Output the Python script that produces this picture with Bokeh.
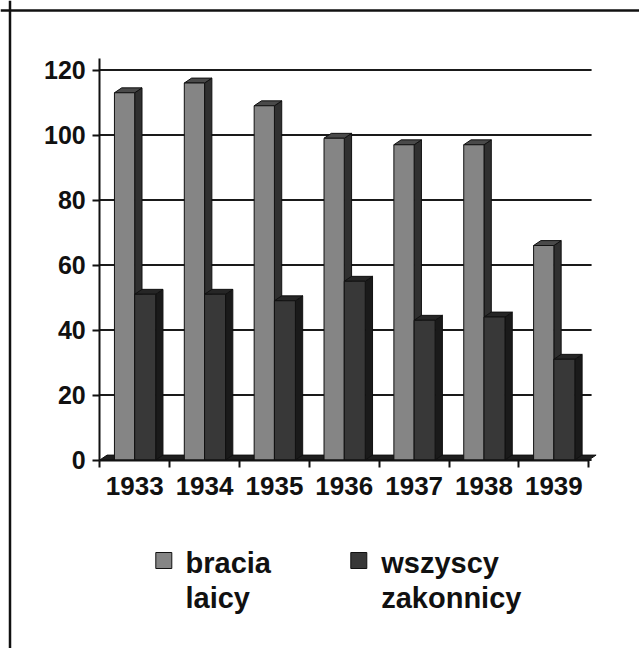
from bokeh.plotting import figure
from bokeh.models import Range1d, LinearAxis, FixedTicker, Span
from bokeh.core.properties import value
from bokeh.embed import file_html
from bokeh.resources import INLINE

# ---- data ----
years = ["1933", "1934", "1935", "1936", "1937", "1938", "1939"]
bracia_laicy = [113, 116, 109, 99, 97, 97, 66]
wszyscy_zakonnicy = [51, 51, 49, 55, 43, 44, 31]
y_ticks = [0, 20, 40, 60, 80, 100, 120]
series_labels = ["bracia\nlaicy", "wszyscy\nzakonnicy"]

# ---- layout constants ----
W, H = 639, 648
PX_X = 69.86          # px per category
PX_Y = 3.25           # px per value unit
ORIGIN_X = 134.2      # canvas px of category 0 centre
ORIGIN_Y = 459.5      # canvas px (from top) of value 0

def cx(px):
    return (px - ORIGIN_X) / PX_X

def cy(py):
    return (ORIGIN_Y - py) / PX_Y

DX = 7.3 / PX_X
DY = 4.9 / PX_Y
FONT = "Liberation Sans"
INK = "#111111"

p = figure(width=W, height=H, output_backend="svg", toolbar_location=None,
           x_range=Range1d(cx(0), cx(W)), y_range=Range1d(cy(H), cy(0)),
           x_axis_type=None, y_axis_type=None, min_border=0)
p.outline_line_color = None
p.background_fill_color = "white"
p.border_fill_color = "white"

n = len(years)
xs = list(range(n))

# gridlines
p.segment(x0=[-0.5] * len(y_ticks), y0=y_ticks, x1=[n - 0.5 + 0.04] * len(y_ticks), y1=y_ticks,
          line_color="#1a1a1a", line_width=2)

# floor
p.patch([-0.5, n - 0.5, n - 0.5 + DX, -0.5 + DX], [0, 0, DY, DY],
        fill_color="#1e1e1e", line_color=INK, line_width=1)

def draw_series(vals, off0, off1, front, top, side):
    tx, ty, sx, sy = [], [], [], []
    for i, h in zip(xs, vals):
        x0, x1 = i + off0, i + off1
        tx.append([x0, x1, x1 + DX, x0 + DX])
        ty.append([h, h, h + DY, h + DY])
        sx.append([x1, x1 + DX, x1 + DX, x1])
        sy.append([0, DY, h + DY, h])
    p.patches(sx, sy, fill_color=side, line_color=INK, line_width=1)
    p.patches(tx, ty, fill_color=top, line_color=INK, line_width=1)
    p.quad(left=[i + off0 for i in xs], right=[i + off1 for i in xs],
           bottom=[0] * n, top=vals, fill_color=front, line_color=INK, line_width=1)

draw_series(bracia_laicy, -0.29, 0.0, "#858585", "#4a4a4a", "#303030")
draw_series(wszyscy_zakonnicy, 0.0, 0.30, "#383838", "#262626", "#1a1a1a")

# y axis
yax = LinearAxis(fixed_location=-0.5, ticker=FixedTicker(ticks=y_ticks), bounds=(0, 123.5))
yax.axis_line_color = INK
yax.axis_line_width = 2
yax.major_tick_out = 7
yax.major_tick_in = 0
yax.major_tick_line_color = INK
yax.major_tick_line_width = 2
yax.minor_tick_line_color = None
yax.major_label_text_font = FONT
yax.major_label_text_font_style = "bold"
yax.major_label_text_font_size = "25px"
yax.major_label_text_color = INK
yax.major_label_standoff = 7
p.add_layout(yax, "left")

# x axis: boundary ticks
xtick = LinearAxis(fixed_location=0, ticker=FixedTicker(ticks=[i - 0.5 for i in range(n + 1)]),
                   bounds=(-0.5, n - 0.5))
xtick.axis_line_color = INK
xtick.axis_line_width = 2
xtick.major_tick_out = 7
xtick.major_tick_in = 0
xtick.major_tick_line_color = INK
xtick.major_tick_line_width = 2
xtick.minor_tick_line_color = None
xtick.major_label_text_color = None
xtick.major_label_text_font_size = "1px"
p.add_layout(xtick, "below")

# x axis: year labels
xlab = LinearAxis(fixed_location=0, ticker=FixedTicker(ticks=xs),
                  major_label_overrides={i: years[i] for i in xs})
xlab.axis_line_color = None
xlab.major_tick_line_color = None
xlab.minor_tick_line_color = None
xlab.major_tick_out = 0
xlab.major_tick_in = 0
xlab.major_label_standoff = 17
xlab.major_label_text_font = FONT
xlab.major_label_text_font_style = "bold"
xlab.major_label_text_font_size = "26px"
xlab.major_label_text_color = INK
p.add_layout(xlab, "below")

# outer frame (left and top edges)
p.add_layout(Span(location=cx(9.5), dimension="height", line_color=INK, line_width=2.5))
p.add_layout(Span(location=cy(10.0), dimension="width", line_color=INK, line_width=2.5))

# legend
p.scatter(x=[cx(163.3), cx(358.3)], y=[cy(560), cy(560)], marker="square", size=16,
          fill_color=["#858585", "#383838"], line_color=INK, line_width=1)
p.text(x=[cx(185), cx(380.7)], y=[cy(546), cy(546)], text=series_labels,
       text_font=value(FONT), text_font_style="bold", text_font_size="29px",
       text_color=INK, text_baseline="top", text_align="left", text_line_height=1.1)

open("out.html", "w").write(file_html(p, INLINE))
